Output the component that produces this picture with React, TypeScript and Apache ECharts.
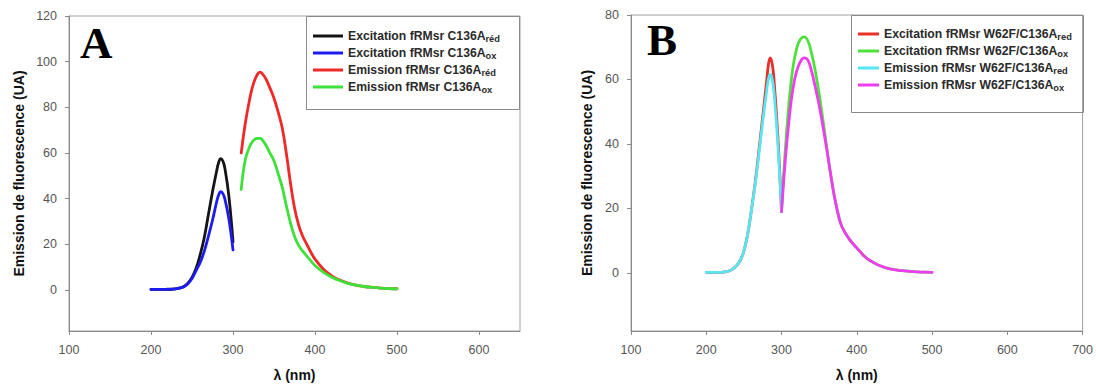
import React, { useEffect, useRef } from "react";
import * as echarts from "echarts";

// ---------- Panel A data ----------
const aExcX = [200, 205, 210, 215, 220, 225, 230, 235, 240, 245, 250, 255, 260, 265, 270, 275, 280, 282.5, 285, 287.5, 290, 295, 300];
const aExcRed = [0.2, 0.2, 0.2, 0.2, 0.3, 0.3, 0.5, 0.9, 1.5, 3, 5.5, 9.5, 15.5, 23, 33, 43, 52, 55.8, 57.5, 56.6, 53.5, 41, 21];
const aExcOx = [0.2, 0.2, 0.2, 0.2, 0.2, 0.3, 0.5, 0.8, 1.4, 2.7, 5, 8.5, 12, 17, 23.5, 30.5, 38.5, 41.6, 43, 42.3, 40, 31, 17.5];
const aEmX = [310, 315, 320, 325, 330, 333, 335, 340, 345, 350, 355, 360, 365, 370, 375, 380, 385, 390, 395, 400, 410, 420, 430, 440, 450, 460, 470, 480, 490, 500];
const aEmRed = [60, 73, 83, 90.5, 94.6, 95.4, 95, 92.5, 88.5, 84, 78, 71, 60, 47, 36, 28.5, 23.5, 20, 16.5, 13.5, 9.2, 6.3, 4.3, 3, 2.1, 1.5, 1.1, 0.8, 0.6, 0.5];
const aEmOx = [44, 57, 62.5, 65.5, 66.4, 66.4, 66, 63.5, 60, 56.5, 51, 45, 37, 29.5, 23.5, 19.5, 17, 14.8, 12.7, 10.7, 7.8, 5.7, 4.1, 2.9, 2.1, 1.5, 1.1, 0.8, 0.6, 0.5];

// ---------- Panel B data ----------
const bExcX = [200, 205, 210, 215, 220, 225, 230, 235, 240, 245, 250, 255, 260, 265, 270, 275, 280, 282.5, 285, 287.5, 290, 295, 300];
const bExcRed = [0.2, 0.2, 0.2, 0.2, 0.2, 0.3, 0.6, 1.2, 2.2, 3.8, 6.8, 12, 19.5, 28, 38, 48.5, 59, 64.5, 66.7, 65, 60, 43, 19];
const bEmRed = [0.2, 0.2, 0.2, 0.2, 0.2, 0.3, 0.6, 1.2, 2.2, 3.8, 6.8, 12, 19.5, 27.5, 37, 47, 56, 60, 61.6, 60.2, 56, 40.5, 19];
const bEmX = [300, 305, 310, 315, 320, 325, 330, 335, 340, 345, 350, 355, 360, 365, 370, 375, 380, 390, 400, 410, 420, 430, 440, 450, 460, 470, 480, 490, 500];
const bExcOx = [19, 38, 53, 63.5, 69.5, 72.5, 73.2, 72, 68, 62.5, 55.5, 47.5, 39, 31, 24, 18.5, 14.5, 10.5, 7.8, 5.2, 3.5, 2.3, 1.5, 1, 0.7, 0.5, 0.35, 0.25, 0.2];
const bEmOx = [19, 35, 47.5, 57, 62.5, 65.5, 66.7, 66, 62.5, 57.5, 52, 45.5, 38.5, 31, 24, 18.5, 14.5, 10.5, 7.8, 5.2, 3.5, 2.3, 1.5, 1, 0.7, 0.5, 0.35, 0.25, 0.2];

// ---------- labels ----------
const aMain = ["Excitation fRMsr C136A", "Excitation fRMsr C136A", "Emission fRMsr C136A", "Emission fRMsr C136A"];
const aSub = ["réd", "ox", "réd", "ox"];
const bMain = ["Excitation fRMsr W62F/C136A", "Excitation fRMsr W62F/C136A", "Emission fRMsr W62F/C136A", "Emission fRMsr W62F/C136A"];
const bSub = ["red", "ox", "red", "ox"];
const aColors = ["#141414", "#1c1cf0", "#f02828", "#3ee03a"];
const bColors = ["#e8302a", "#4fe03e", "#55e8f2", "#f03cf0"];

const aYTicks = [0, 20, 40, 60, 80, 100, 120];
const bYTicks = [0, 20, 40, 60, 80];
const aXTicks = [100, 200, 300, 400, 500, 600];
const bXTicks = [100, 200, 300, 400, 500, 600, 700];

const yTitle = "Emission de fluorescence (UA)";
const xTitle = "λ (nm)";

const SANS = "'Liberation Sans', Arial, sans-serif";

const zip = (xs: number[], ys: number[]) => xs.map((x, i) => [x, ys[i]]);

export default function App() {
  const ref = useRef<HTMLDivElement>(null);
  useEffect(() => {
    document.body.style.margin = "0";
    if (!ref.current) return;
    const chart = echarts.init(ref.current, undefined, { renderer: "svg" });

    const aNames = aMain.map((m, i) => m + aSub[i] + "#A" + i);
    const bNames = bMain.map((m, i) => m + bSub[i] + "#B" + i);
    const fmt = (name: string) => {
      let i = aNames.indexOf(name);
      if (i >= 0) return "{a|" + aMain[i] + "}{s|" + aSub[i] + "}";
      i = bNames.indexOf(name);
      return "{a|" + bMain[i] + "}{s|" + bSub[i] + "}";
    };
    const rich = {
      a: { fontSize: 12.2, fontWeight: "bold", fontFamily: SANS, color: "#2a2a2a", lineHeight: 20 },
      s: { fontSize: 9.3, fontWeight: "bold", fontFamily: SANS, color: "#2a2a2a", lineHeight: 11, padding: [8, 0, 0, 0], verticalAlign: "top" },
    };

    const xAxisBase = (grid: number, max: number, ticks: number[]) => ({
      gridIndex: grid,
      type: "value",
      min: 100,
      max,
      axisLine: { show: true, onZero: false, lineStyle: { color: "#8a8a8a", width: 1 } },
      axisTick: { show: true, length: 4, inside: false, customValues: ticks, lineStyle: { color: "#8a8a8a" } },
      axisLabel: { customValues: ticks, margin: 12, color: "#555", fontSize: 12.5, fontFamily: SANS },
      splitLine: { show: false },
      name: xTitle,
      nameLocation: "middle",
      nameGap: 37,
      nameTextStyle: { fontSize: 14, fontWeight: "bold", color: "#111", fontFamily: SANS },
    });
    const yAxisBase = (grid: number, max: number, ticks: number[], gap: number) => ({
      gridIndex: grid,
      type: "value",
      min: -18,
      max,
      axisLine: { show: true, onZero: false, lineStyle: { color: "#8a8a8a", width: 1 } },
      axisTick: { show: true, length: 4, inside: false, customValues: ticks, lineStyle: { color: "#8a8a8a" } },
      axisLabel: { customValues: ticks, margin: 12, color: "#555", fontSize: 12.5, fontFamily: SANS },
      splitLine: { show: false },
      name: yTitle,
      nameLocation: "middle",
      nameGap: gap,
      nameTextStyle: { fontSize: 14, fontWeight: "bold", color: "#111", fontFamily: SANS },
    });

    const line = (name: string, color: string, xi: number, data: number[][]) => ({
      name,
      type: "line",
      xAxisIndex: xi,
      yAxisIndex: xi,
      data,
      color,
      showSymbol: false,
      symbol: "none",
      smooth: 0.45,
      lineStyle: { color, width: 2.8, cap: "round", join: "round" },
      itemStyle: { color },
    });

    chart.setOption({
      animation: false,
      backgroundColor: "#fff",
      grid: [
        { left: 69, top: 16, width: 451, height: 317, show: true, borderColor: "#a0a0a0", borderWidth: 1, backgroundColor: "transparent" },
        { left: 631, top: 15, width: 453, height: 318, show: true, borderColor: "#a0a0a0", borderWidth: 1, backgroundColor: "transparent" },
      ],
      xAxis: [xAxisBase(0, 650, aXTicks), xAxisBase(1, 700, bXTicks)],
      yAxis: [yAxisBase(0, 120, aYTicks, 43), yAxisBase(1, 80, bYTicks, 37)],
      legend: [
        {
          data: aNames,
          orient: "vertical",
          left: 313,
          top: 26,
          padding: 0,
          itemGap: 0,
          itemWidth: 30,
          itemHeight: 3,
          icon: "rect",
          formatter: fmt,
          textStyle: { rich },
          selectedMode: false,
        },
        {
          data: bNames,
          orient: "vertical",
          left: 858,
          top: 24,
          padding: 0,
          itemGap: 0,
          itemWidth: 21,
          itemHeight: 3,
          icon: "rect",
          formatter: fmt,
          textStyle: { rich },
          selectedMode: false,
        },
      ],
      graphic: [
        { type: "rect", shape: { x: 306.5, y: 16.5, width: 213, height: 93 }, style: { fill: "none", stroke: "#8a8a8a", lineWidth: 1 }, z: 10 },
        { type: "rect", shape: { x: 851.5, y: 15.5, width: 232, height: 97 }, style: { fill: "none", stroke: "#8a8a8a", lineWidth: 1 }, z: 10 },
        { type: "text", left: 80, top: 20, style: { text: "A", font: "bold 45px 'Liberation Serif', 'Times New Roman', serif", fill: "#000" }, z: 10 },
        { type: "text", left: 647, top: 17, style: { text: "B", font: "bold 45px 'Liberation Serif', 'Times New Roman', serif", fill: "#000" }, z: 10 },
      ],
      series: [
        line(aNames[0], aColors[0], 0, zip(aExcX, aExcRed)),
        line(aNames[1], aColors[1], 0, zip(aExcX, aExcOx)),
        line(aNames[2], aColors[2], 0, zip(aEmX, aEmRed)),
        line(aNames[3], aColors[3], 0, zip(aEmX, aEmOx)),
        line(bNames[0], bColors[0], 1, zip(bExcX, bExcRed)),
        line(bNames[1], bColors[1], 1, zip(bEmX, bExcOx)),
        line(bNames[2], bColors[2], 1, zip(bExcX, bEmRed)),
        line(bNames[3], bColors[3], 1, zip(bEmX, bEmOx)),
      ],
    });
    return () => chart.dispose();
  }, []);
  return <div ref={ref} style={{ width: 1096, height: 387 }} />;
}
